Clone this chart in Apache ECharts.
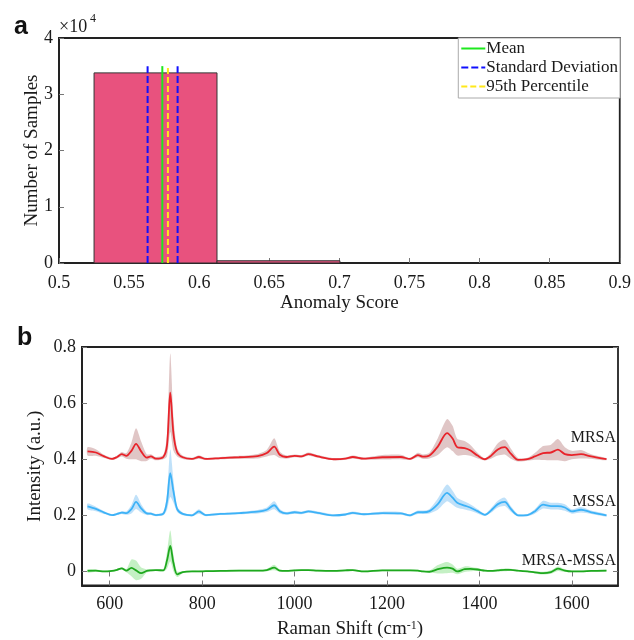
<!DOCTYPE html>
<html><head><meta charset="utf-8">
<script src="https://cdn.jsdelivr.net/npm/echarts@6/dist/echarts.min.js"></script>
<style>html,body{margin:0;padding:0;background:#fff}#c{width:634px;height:640px}</style>
</head><body><div id="c"></div>
<script>
// ---------- Panel a data ----------
const binEdges = [0.525, 0.6127, 0.7004];
const binCounts = [33800, 400];
const meanScore = 0.5737;
const sdScores = [0.5632, 0.5846];
const p95Score = 0.5777;
const markerTop = 35000;
const legendNames = ['Mean', 'Standard Deviation', '95th Percentile'];

// ---------- Panel b data ----------
const ramanTicks = [600, 800, 1000, 1200, 1400, 1600];
const intensityTicks = [0, 0.2, 0.4, 0.6, 0.8];
const wavenumber = [552,570,588,605,616,626,636,647,657,668,680,689,700,716,724,731,738,746,758,778,793,808,840,880,920,940,956,968,982,1000,1015,1030,1050,1085,1110,1126,1150,1190,1230,1250,1267,1278,1292,1310,1330,1342,1352,1368,1380,1396,1412,1425,1440,1455,1468,1484,1504,1520,1538,1555,1570,1585,1600,1620,1642,1675];
const mrsaMean = [0.428,0.424,0.41,0.401,0.408,0.418,0.412,0.43,0.455,0.428,0.406,0.41,0.402,0.408,0.45,0.637,0.49,0.425,0.407,0.401,0.408,0.401,0.404,0.407,0.411,0.422,0.445,0.416,0.408,0.412,0.41,0.418,0.41,0.40,0.402,0.408,0.402,0.407,0.408,0.401,0.415,0.409,0.413,0.445,0.493,0.474,0.443,0.44,0.432,0.413,0.40,0.412,0.435,0.443,0.42,0.398,0.40,0.41,0.422,0.424,0.434,0.418,0.415,0.418,0.41,0.40];
const mrsaSd = [0.015,0.012,0.006,0.004,0.005,0.008,0.01,0.03,0.055,0.035,0.012,0.008,0.006,0.008,0.04,0.14,0.06,0.015,0.006,0.004,0.006,0.004,0.004,0.005,0.008,0.012,0.03,0.012,0.006,0.005,0.005,0.006,0.005,0.004,0.004,0.005,0.004,0.008,0.008,0.004,0.008,0.008,0.01,0.03,0.05,0.045,0.03,0.025,0.02,0.01,0.004,0.01,0.022,0.026,0.018,0.006,0.005,0.012,0.025,0.028,0.038,0.025,0.015,0.015,0.008,0.004];
const mssaMean = [0.232,0.223,0.21,0.201,0.205,0.21,0.208,0.222,0.248,0.225,0.207,0.206,0.201,0.206,0.25,0.35,0.285,0.222,0.205,0.20,0.214,0.201,0.205,0.208,0.213,0.22,0.236,0.215,0.207,0.211,0.209,0.214,0.209,0.20,0.203,0.209,0.204,0.208,0.207,0.20,0.211,0.211,0.215,0.24,0.28,0.263,0.245,0.235,0.228,0.215,0.202,0.217,0.24,0.248,0.223,0.20,0.201,0.214,0.238,0.233,0.233,0.228,0.214,0.22,0.211,0.20];
const mssaSd = [0.01,0.008,0.005,0.003,0.004,0.005,0.006,0.015,0.025,0.015,0.006,0.005,0.004,0.006,0.03,0.085,0.04,0.01,0.005,0.004,0.008,0.004,0.004,0.004,0.006,0.008,0.014,0.008,0.005,0.005,0.005,0.005,0.005,0.004,0.004,0.005,0.004,0.005,0.005,0.004,0.006,0.006,0.008,0.02,0.03,0.025,0.018,0.014,0.012,0.008,0.004,0.008,0.012,0.015,0.01,0.004,0.004,0.008,0.014,0.012,0.012,0.012,0.008,0.01,0.006,0.004];
const diffMean = [0.002,0.003,0.0,0.002,0.006,0.011,0.003,0.013,0.004,-0.006,0.002,0.004,0.005,0.004,0.04,0.091,0.03,-0.01,-0.002,0.0,0.0,0.001,0.002,0.003,0.003,0.005,0.014,0.003,0.002,0.004,0.005,0.005,0.003,0.002,0.004,0.005,0.0,0.004,0.004,0.004,0.003,0.0,-0.001,0.008,0.014,0.01,0.0,0.008,0.009,0.007,0.003,0.002,0.004,0.006,0.006,0.003,0.0,-0.003,-0.006,-0.002,0.01,0.003,0.0,0.0,0.002,0.003];
const diffSd = [0.006,0.004,0.003,0.003,0.003,0.004,0.006,0.03,0.035,0.02,0.006,0.004,0.003,0.004,0.03,0.055,0.03,0.01,0.004,0.003,0.003,0.003,0.003,0.003,0.003,0.004,0.01,0.004,0.003,0.003,0.003,0.003,0.003,0.003,0.003,0.003,0.003,0.003,0.003,0.003,0.003,0.003,0.004,0.015,0.02,0.015,0.01,0.01,0.008,0.005,0.003,0.003,0.004,0.005,0.004,0.003,0.003,0.004,0.005,0.006,0.008,0.005,0.003,0.003,0.003,0.003];
const groupNames = ['MRSA', 'MSSA', 'MRSA-MSSA'];

const SERIF = '"Liberation Serif","Times New Roman",serif';
const SANS = '"Liberation Sans",Arial,sans-serif';
const TXT = '#1a1a1a';

function bandSeries(mean, sd, color) {
  const rows = wavenumber.map((w, i) => [w, mean[i] - sd[i], mean[i] + sd[i]]);
  return {
    type: 'custom', xAxisIndex: 1, yAxisIndex: 1, silent: true, z: 1,
    data: rows, encode: { x: 0, y: [1, 2] },
    renderItem: (params, api) => {
      if (params.dataIndex !== 0) return null;
      const up = rows.map(r => api.coord([r[0], r[2]]));
      const lo = rows.map(r => api.coord([r[0], r[1]])).reverse();
      return { type: 'polygon', shape: { points: up.concat(lo), smooth: 0.25 }, style: { fill: color } };
    }
  };
}
function meanSeries(name, mean, color) {
  return {
    name: name, type: 'line', xAxisIndex: 1, yAxisIndex: 1, z: 3,
    data: wavenumber.map((w, i) => [w, mean[i]]),
    showSymbol: false, symbol: 'none', smooth: 0.3, silent: true,
    lineStyle: { color: color, width: 1.8 }
  };
}
function vline(name, x, color, type) {
  return {
    name: name, type: 'line', xAxisIndex: 0, yAxisIndex: 0, z: 4, symbol: 'none', silent: true,
    data: [[x, 0], [x, markerTop]],
    itemStyle: { color: color },
    lineStyle: { color: color, width: 2, type: type }
  };
}

const chart = echarts.init(document.getElementById('c'), null, { renderer: 'canvas' });
const axisTickStyle = { inside: true, length: 5, lineStyle: { color: '#777', width: 1 } };
const labelStyle = { fontFamily: SERIF, fontSize: 18, color: TXT };

chart.setOption({
  animation: false,
  backgroundColor: '#fff',
  grid: [
    { left: 59, top: 38, width: 561, height: 225, show: true, borderColor: '#222', borderWidth: 1.8, backgroundColor: 'transparent' },
    { left: 82, top: 347, width: 536, height: 240, show: true, borderColor: '#222', borderWidth: 1.8, backgroundColor: 'transparent' }
  ],
  legend: {
    data: legendNames, orient: 'vertical', right: 14, top: 38,
    backgroundColor: '#fff', borderColor: '#aaa', borderWidth: 1,
    padding: [2, 2, 3, 2], itemWidth: 24, itemHeight: 12, itemGap: 2,
    itemStyle: { color: 'transparent', borderWidth: 0, opacity: 0 },
    textStyle: { fontFamily: SERIF, fontSize: 17, lineHeight: 17, color: TXT, padding: [0, 0, 0, -4] },
    selectedMode: false
  },
  xAxis: [
    { gridIndex: 0, type: 'value', min: 0.5, max: 0.9, interval: 0.05,
      axisLine: { show: true, onZero: false, lineStyle: { color: '#222', width: 2 } },
      axisTick: axisTickStyle, splitLine: { show: false },
      axisLabel: Object.assign({ margin: 11 }, labelStyle),
      name: 'Anomaly Score', nameLocation: 'middle', nameGap: 31,
      nameTextStyle: { fontFamily: SERIF, fontSize: 19, color: TXT } },
    { gridIndex: 1, type: 'value', min: 540, max: 1700,
      axisLine: { show: true, onZero: false, lineStyle: { color: '#222', width: 2 } },
      axisTick: Object.assign({ customValues: ramanTicks }, axisTickStyle), splitLine: { show: false },
      axisLabel: Object.assign({ margin: 10, customValues: ramanTicks, formatter: v => String(v) }, labelStyle),
      name: 'Raman Shift (cm{sup|-1})', nameLocation: 'middle', nameGap: 34,
      nameTextStyle: { fontFamily: SERIF, fontSize: 19, color: TXT,
        rich: { sup: { fontFamily: SERIF, fontSize: 12, color: TXT, verticalAlign: 'top', padding: [0, 0, 8, 0] } } } },
    { gridIndex: 1, type: 'value', min: 540, max: 1700, position: 'top',
      axisLine: { show: false }, splitLine: { show: false }, axisLabel: { show: false },
      axisTick: Object.assign({ customValues: ramanTicks }, axisTickStyle) }
  ],
  yAxis: [
    { gridIndex: 0, type: 'value', min: 0, max: 40000, interval: 10000,
      axisLine: { show: true, onZero: false, lineStyle: { color: '#222', width: 2 } },
      axisTick: axisTickStyle, splitLine: { show: false },
      axisLabel: Object.assign({ margin: 6, formatter: v => String(v / 10000) }, labelStyle),
      name: 'Number of Samples', nameLocation: 'middle', nameGap: 17, nameMoveOverlap: false,
      nameTextStyle: { fontFamily: SERIF, fontSize: 19, color: TXT } },
    { gridIndex: 1, type: 'value', min: -0.05, max: 0.8,
      axisLine: { show: true, onZero: false, lineStyle: { color: '#222', width: 2 } },
      axisTick: Object.assign({ customValues: intensityTicks }, axisTickStyle), splitLine: { show: false },
      axisLabel: Object.assign({ margin: 6, customValues: intensityTicks, formatter: v => String(v) }, labelStyle),
      name: 'Intensity (a.u.)', nameLocation: 'middle', nameGap: 37, nameMoveOverlap: false,
      nameTextStyle: { fontFamily: SERIF, fontSize: 19, color: TXT } },
    { gridIndex: 1, type: 'value', min: -0.05, max: 0.8, position: 'right',
      axisLine: { show: false }, splitLine: { show: false }, axisLabel: { show: false },
      axisTick: Object.assign({ customValues: intensityTicks }, axisTickStyle) }
  ],
  graphic: [
    { type: 'text', left: 14, top: 15, style: { text: 'a', font: 'bold 25px ' + SANS, fill: '#111' } },
    { type: 'text', left: 17, top: 326, style: { text: 'b', font: 'bold 25px ' + SANS, fill: '#111' } },
    { type: 'text', left: 59, top: 18, style: { text: '×10', font: '18px ' + SERIF, fill: TXT } },
    { type: 'text', left: 90, top: 13, style: { text: '4', font: '12px ' + SERIF, fill: TXT } },
    { type: 'text', right: 18, top: 430, style: { text: groupNames[0], font: '16px ' + SERIF, fill: TXT } },
    { type: 'text', right: 18, top: 494, style: { text: groupNames[1], font: '16px ' + SERIF, fill: TXT } },
    { type: 'text', right: 18, top: 553, style: { text: groupNames[2], font: '16px ' + SERIF, fill: TXT } }
  ],
  series: [
    { type: 'custom', xAxisIndex: 0, yAxisIndex: 0, z: 2, silent: true,
      data: binCounts.map((c, i) => [binEdges[i], binEdges[i + 1], c]),
      encode: { x: [0, 1], y: 2 },
      renderItem: (p, api) => {
        const a = api.coord([api.value(0), api.value(2)]);
        const b = api.coord([api.value(1), 0]);
        return { type: 'rect', shape: { x: a[0], y: a[1], width: b[0] - a[0], height: b[1] - a[1] },
          style: { fill: '#E8527E', stroke: '#333', lineWidth: 1 } };
      } },
    vline(legendNames[1], sdScores[0], '#1010ff', [7, 3]),
    vline(legendNames[1], sdScores[1], '#1010ff', [7, 3]),
    vline(legendNames[0], meanScore, '#1ee81e', 'solid'),
    vline(legendNames[2], p95Score, '#ffe81a', [6, 3]),
    bandSeries(mrsaMean, mrsaSd, 'rgba(180,120,120,0.42)'),
    bandSeries(mssaMean, mssaSd, 'rgba(90,175,240,0.38)'),
    bandSeries(diffMean, diffSd, 'rgba(100,215,100,0.38)'),
    meanSeries(groupNames[0], mrsaMean, '#e8232a'),
    meanSeries(groupNames[1], mssaMean, '#3db2f7'),
    meanSeries(groupNames[2], diffMean, '#1ea81e')
  ]
});
</script></body></html>
